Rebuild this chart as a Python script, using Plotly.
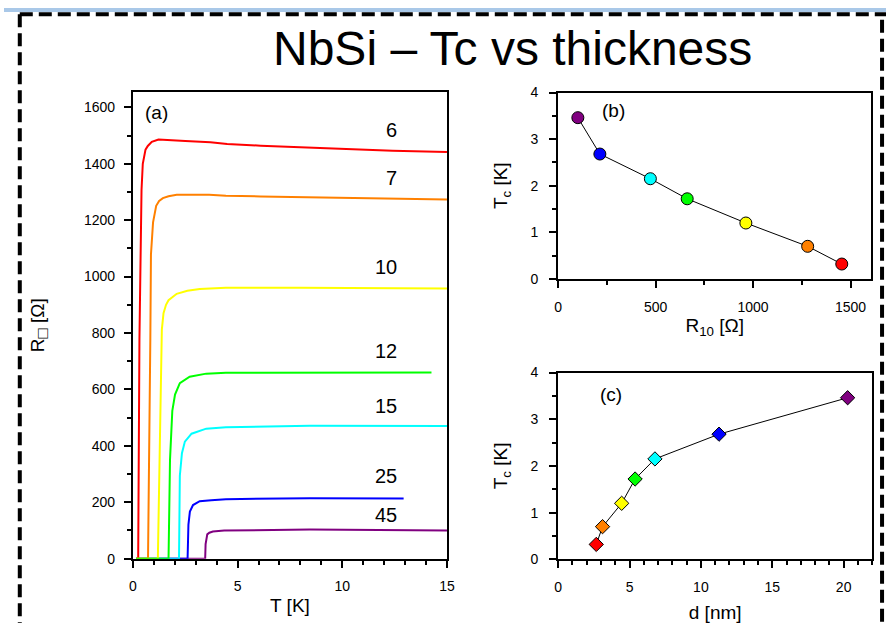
import plotly.graph_objects as go

# ---------------- data ----------------
thickness_labels = ["6", "7", "10", "12", "15", "25", "45"]
curve_colors = ["#ff0000", "#ff8000", "#ffff00", "#00ff00", "#00ffff", "#0000ff", "#800080"]

# Panel (a): sheet resistance vs temperature
T_6 = [0.15, 0.25, 0.31, 0.36, 0.41, 0.47, 0.52, 0.60, 0.71, 0.90, 1.22, 1.60, 2.50, 3.70, 4.50, 6.10, 9.20, 12.40, 15.00]
R_6 = [0, 0, 777, 1078, 1307, 1400, 1423, 1450, 1463, 1478, 1486, 1485, 1481, 1476, 1470, 1464, 1455, 1446, 1442]

T_7 = [0.15, 0.72, 0.83, 0.86, 0.96, 1.11, 1.25, 1.43, 1.70, 2.09, 3.64, 4.44, 6.09, 9.00, 12.40, 15.00]
R_7 = [0, 0, 777, 1078, 1192, 1251, 1268, 1278, 1285, 1290, 1290, 1287, 1284, 1280, 1276, 1273]

T_10 = [0.15, 1.19, 1.38, 1.46, 1.58, 1.70, 2.09, 2.60, 3.19, 4.44, 8.00, 15.00]
R_10 = [0, 0, 812, 870, 900, 916, 939, 950, 956, 960, 960, 958]

T_12 = [0.15, 1.70, 1.77, 1.88, 2.01, 2.24, 2.71, 3.50, 4.44, 8.00, 14.26]
R_12 = [0, 0, 351, 524, 582, 622, 645, 656, 659, 660, 660]

T_15 = [0.15, 2.20, 2.24, 2.34, 2.48, 2.80, 3.50, 4.44, 8.45, 15.00]
R_15 = [0, 0, 294, 374, 415, 443, 461, 466, 471, 470]

T_25 = [0.15, 2.61, 2.65, 2.72, 2.87, 3.19, 3.74, 4.44, 8.45, 12.93]
R_25 = [0, 0, 121, 167, 190, 204, 207, 211, 214, 213]

T_45 = [0.15, 3.45, 3.47, 3.55, 3.65, 3.82, 4.36, 8.45, 15.00]
R_45 = [0, 0, 52, 86, 92, 96, 100, 103, 100]

# Panels (b) and (c): Tc vs R10 and vs thickness d (ordered red -> purple)
Tc = [0.32, 0.70, 1.20, 1.72, 2.15, 2.68, 3.46]
R10 = [1455, 1280, 963, 662, 473, 214, 101]
d_nm = [2.67, 3.11, 4.45, 5.39, 6.78, 11.27, 20.28]

# ---------------- figure ----------------
W, H = 894, 631
FONT = "Liberation Sans, Arial, sans-serif"

def px(x):
    return x / W

def py(y):
    return 1 - y / H

curves_T = [T_6, T_7, T_10, T_12, T_15, T_25, T_45]
curves_R = [R_6, R_7, R_10, R_12, R_15, R_25, R_45]

fig = go.Figure()

# draw order so that the green baseline sits on top near T=0
order = [6, 5, 4, 0, 1, 2, 3]
for i in order:
    fig.add_trace(go.Scatter(
        x=curves_T[i], y=curves_R[i], mode="lines",
        line=dict(color=curve_colors[i], width=2),
        xaxis="x", yaxis="y", showlegend=False, hoverinfo="skip"))

# panel (b)
fig.add_trace(go.Scatter(x=R10, y=Tc, mode="lines", line=dict(color="black", width=1),
                         xaxis="x2", yaxis="y2", showlegend=False))
fig.add_trace(go.Scatter(x=R10, y=Tc, mode="markers",
                         marker=dict(symbol="circle", size=12, color=curve_colors,
                                     line=dict(color="black", width=1)),
                         xaxis="x2", yaxis="y2", showlegend=False, cliponaxis=False))
# panel (c)
fig.add_trace(go.Scatter(x=d_nm, y=Tc, mode="lines", line=dict(color="black", width=1),
                         xaxis="x3", yaxis="y3", showlegend=False))
fig.add_trace(go.Scatter(x=d_nm, y=Tc, mode="markers",
                         marker=dict(symbol="diamond", size=11, color=curve_colors,
                                     line=dict(color="black", width=1)),
                         xaxis="x3", yaxis="y3", showlegend=False, cliponaxis=False))

tickfont = dict(family=FONT, size=14, color="black")
titlefont = dict(family=FONT, size=19, color="black")

def axis_common(**kw):
    base = dict(showline=True, linecolor="black", linewidth=2, mirror=True,
                showgrid=False, zeroline=False, ticks="outside", ticklen=7,
                tickwidth=1.5, tickcolor="black", tickfont=tickfont)
    base.update(kw)
    return base

def minor(step):
    return dict(dtick=step, ticks="outside", ticklen=4, tickwidth=1.5, tickcolor="black")

fig.update_layout(
    width=W, height=H, autosize=False,
    margin=dict(l=0, r=0, t=0, b=0),
    paper_bgcolor="white", plot_bgcolor="white",
    font=dict(family=FONT, color="black"),
    xaxis=axis_common(domain=[px(130.7), px(449)], range=[0, 15], dtick=5, minor=minor(1),
                      anchor="y", layer="below traces", ticklabelstandoff=7,
                      title=dict(text="T [K]", font=titlefont, standoff=5)),
    yaxis=axis_common(domain=[py(565), py(86)], range=[0, 1655], dtick=200, minor=minor(100),
                      anchor="x", layer="below traces", ticklabelstandoff=6,
                      title=dict(text="R<sub><span style='font-size:17px'>□</span></sub> [Ω]",
                                 font=titlefont, standoff=34)),
    xaxis2=axis_common(domain=[px(561.7), px(879)], range=[0, 1606], dtick=500, minor=minor(250),
                       anchor="y2", ticklabelstandoff=7,
                       title=dict(text="R<sub>10</sub> [Ω]", font=titlefont, standoff=5)),
    yaxis2=axis_common(domain=[py(278), py(86.7)], range=[0, 4], dtick=1, minor=minor(0.5),
                       anchor="x2", ticklabelstandoff=8,
                       title=dict(text="T<sub>c</sub> [K]", font=titlefont, standoff=18)),
    xaxis3=axis_common(domain=[px(561.7), px(880)], range=[0, 22], dtick=5, minor=minor(1),
                       anchor="y3", ticklabelstandoff=7,
                       title=dict(text="d [nm]", font=titlefont, standoff=12)),
    yaxis3=axis_common(domain=[py(565.7), py(374)], range=[0, 4], dtick=1, minor=minor(0.5),
                       anchor="x3", ticklabelstandoff=8,
                       title=dict(text="T<sub>c</sub> [K]", font=titlefont, standoff=18)),
)

def note(text, x, y, size, xref="paper", yref="paper"):
    return dict(text=text, x=x, y=y, xref=xref, yref=yref, showarrow=False,
                xanchor="center", yanchor="middle",
                font=dict(family=FONT, size=size, color="black"))

annotations = [
    note("NbSi – Tc vs thickness", px(515), py(42), 48),
    note("(a)", px(155), py(107), 19),
    note("(b)", px(618), py(105), 19),
    note("(c)", px(615), py(397), 19),
]
label_pos = [(12.36, 1520), (12.36, 1348), (12.1, 1033), (12.1, 736),
             (12.1, 542), (12.1, 294), (12.1, 155)]
for lab, (lx, ly) in zip(thickness_labels, label_pos):
    annotations.append(note(lab, lx, ly, 20, xref="x", yref="y"))
fig.update_layout(annotations=annotations)

# slide decoration: blue band and dashed frame
shapes = [
    dict(type="rect", xref="paper", yref="paper", x0=0, x1=1, y0=py(4), y1=1,
         fillcolor="#a9c8e8", line=dict(width=0), layer="below"),
    dict(type="line", xref="paper", yref="paper", x0=px(16), x1=1, y0=py(6.5), y1=py(6.5),
         line=dict(color="black", width=4, dash="13px,6px")),
    dict(type="line", xref="paper", yref="paper", x0=px(16), x1=px(16), y0=py(6.5), y1=0,
         line=dict(color="black", width=4, dash="13px,6px")),
    dict(type="line", xref="paper", yref="paper", x0=px(890), x1=px(890), y0=py(12), y1=0,
         line=dict(color="black", width=4, dash="13px,6px")),
]
fig.update_layout(shapes=shapes)

# remove the default page margin so the 894x631 figure fills the window exactly
post = ("document.documentElement.style.margin='0px';"
        "document.documentElement.style.padding='0px';"
        "document.documentElement.style.overflow='hidden';"
        "document.body.style.margin='0px';document.body.style.padding='0px';"
        "document.body.style.overflow='hidden';")
fig.write_html("out.html", config={"displayModeBar": False}, post_script=post)
